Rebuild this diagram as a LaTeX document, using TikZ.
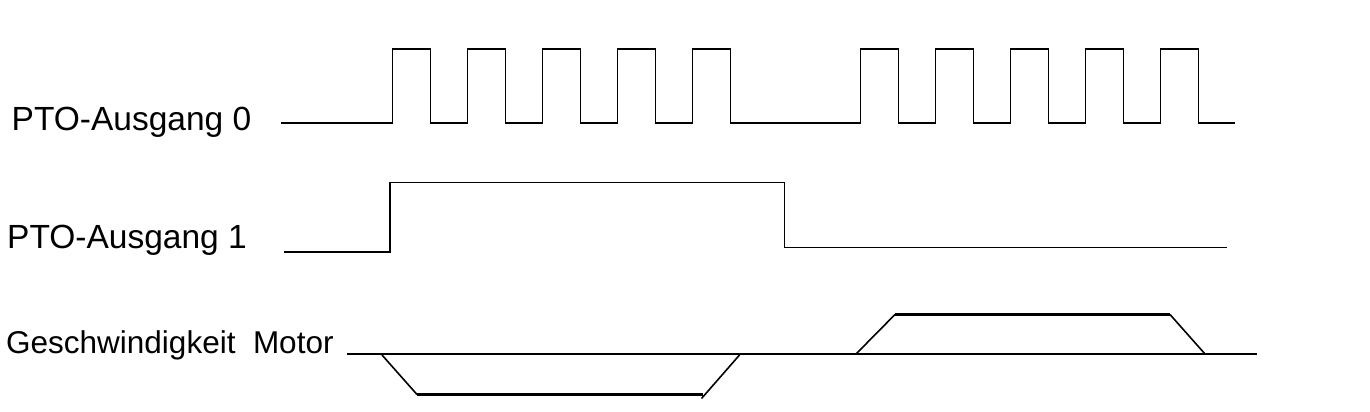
\documentclass[tikz,border=0pt]{standalone}
\usepackage{fontspec}
\setmainfont{Liberation Sans}

\begin{document}
\begin{tikzpicture}[x=1pt,y=-1pt,
  sig/.style={line width=1.6pt},
  plateau/.style={line width=2.8pt},
  lbl/.style={anchor=base west,inner sep=0pt,font=\fontsize{33.5}{40}\selectfont}]
\useasboundingbox (0,0) rectangle (1370,412);
% labels
\node[lbl] (pto0) at (11.5,130) {PTO-Ausgang 0};
\node[lbl] (pto1) at (7,248) {PTO-Ausgang 1};
\node[lbl,font=\fontsize{31.5}{38}\selectfont] (speed) at (6,353) {Geschwindigkeit~~Motor};
% PTO output 0: two bursts of pulses
\coordinate (s0) at (281,123);
\draw[sig] (s0) \foreach \i in {0,...,4} {-- ({392.5+75*\i},123) -- ++(0,-74) -- ++(38,0) -- ++(0,74)}
  -- (860.5,123) \foreach \i in {0,...,4} {-- ({860.5+75*\i},123) -- ++(0,-74) -- ++(38,0) -- ++(0,74)}
  -- (1235,123);
% PTO output 1: direction
\coordinate (s1) at (284,252);
\draw[sig] (s1) -- (390,252) -- (390,182.5) -- (784.5,182.5) -- (784.5,247.5) -- (1227,247.5);
% motor speed
\coordinate (s2) at (347,354);
\coordinate (e2) at (1256.5,354);
\draw[sig] (s2) -- (e2);
\draw[sig] (382,355) -- (417,394.5);
\draw[plateau] (417,394.5) -- (703,394.5);
\draw[sig] (701.5,398.5) -- (739.5,355);
\draw[sig] (856,354) -- (895,314.5);
\draw[plateau] (895,314.5) -- (1170,314.5);
\draw[sig] (1170,314.5) -- (1205,354);
\end{tikzpicture}
\end{document}
